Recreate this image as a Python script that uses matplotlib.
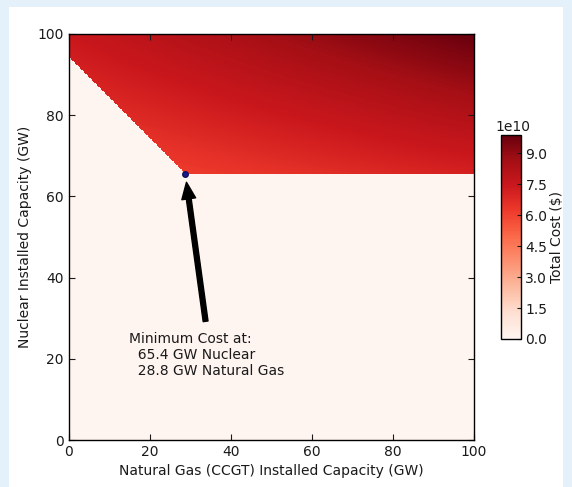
import numpy as np
import matplotlib
matplotlib.use("Agg")
import matplotlib.pyplot as plt
from matplotlib.patches import Rectangle

# --- values ---
axis_max_gw = 100.0
min_nuclear_gw = 65.4          # minimum-cost nuclear capacity
min_gas_gw = 28.8              # minimum-cost natural gas capacity
required_total_gw = 94.2       # nuclear + gas needed (diagonal edge)
# cost readings (from colour vs colorbar) at corners of the feasible region
reading_gas = [28.8, 100.0, 0.0, 100.0]
reading_nuc = [65.4, 65.4, 100.0, 100.0]
reading_cost = [6.2e10, 7.1e10, 7.5e10, 9.9e10]
cbar_ticks = [0.0, 1.5e10, 3.0e10, 4.5e10, 6.0e10, 7.5e10, 9.0e10]
x_ticks = [0, 20, 40, 60, 80, 100]
y_ticks = [0, 20, 40, 60, 80, 100]
annot_text = "Minimum Cost at:\n  65.4 GW Nuclear\n  28.8 GW Natural Gas"

# --- bilinear cost surface through the readings ---
rg = np.array(reading_gas)
rn = np.array(reading_nuc)
A = np.column_stack([np.ones(4), rg, rn, rg * rn])
coef = np.linalg.solve(A, np.array(reading_cost))

step = 0.2
gas = np.arange(0, axis_max_gw + step / 2, step)
nuc = np.arange(0, axis_max_gw + step / 2, step)
G, N = np.meshgrid(gas, nuc)
cost = coef[0] + coef[1] * G + coef[2] * N + coef[3] * G * N
feasible = (N >= min_nuclear_gw) & (N + G >= required_total_gw)
cost = np.where(feasible, cost, 0.0)

FS = 10
plt.rcParams['font.family'] = ['DejaVu Sans']
fig = plt.figure(figsize=(5.72, 4.87), dpi=100)
fig.patch.set_facecolor('#e4f1fb')
bg = Rectangle((9 / 572, 0), (563 - 9) / 572, 1 - 7 / 487,
               transform=fig.transFigure, facecolor='white',
               edgecolor='none', zorder=-10)
fig.add_artist(bg)

ax = fig.add_axes([0.12, 0.0965, 0.7087, 0.834])
im = ax.imshow(cost, origin='lower', extent=[0, axis_max_gw, 0, axis_max_gw],
               cmap='Reds', aspect='auto', interpolation='nearest')
ax.plot([min_gas_gw], [min_nuclear_gw], 'o', color='#1a1a8c', markersize=4,
        markeredgecolor='#10105a', zorder=5)
ax.annotate(annot_text, xy=(min_gas_gw, min_nuclear_gw), xytext=(15.0, 26.6),
            ha='left', va='top', fontsize=FS, color='#1a1a1a',
            arrowprops=dict(facecolor='black', edgecolor='black', shrink=0.05,
                            width=3.5, headwidth=10, headlength=12))

ax.set_xlim(0, axis_max_gw)
ax.set_ylim(0, axis_max_gw)
ax.set_xticks(x_ticks)
ax.set_yticks(y_ticks)
ax.tick_params(direction='in', top=True, right=True, labelsize=FS, length=4,
               colors='#1a1a1a')
ax.set_xlabel("Natural Gas (CCGT) Installed Capacity (GW)", fontsize=FS, color='#1a1a1a')
ax.set_ylabel("Nuclear Installed Capacity (GW)", fontsize=FS, color='#1a1a1a')
for s in ax.spines.values():
    s.set_linewidth(1.0)

cax = fig.add_axes([0.875, 0.304, 0.035, 0.419])
cb = fig.colorbar(im, cax=cax, ticks=cbar_ticks)
cb.ax.tick_params(labelsize=FS, direction='in', length=3, colors='#1a1a1a')
off = cb.ax.yaxis.get_offset_text()
off.set_fontsize(FS)
off.set_horizontalalignment('center')
off.set_x(0.6)
cb.set_label("Total Cost ($)", fontsize=FS, color='#1a1a1a', labelpad=2)
cb.outline.set_linewidth(1.0)

fig.savefig("out.png", dpi=100, facecolor=fig.get_facecolor())
